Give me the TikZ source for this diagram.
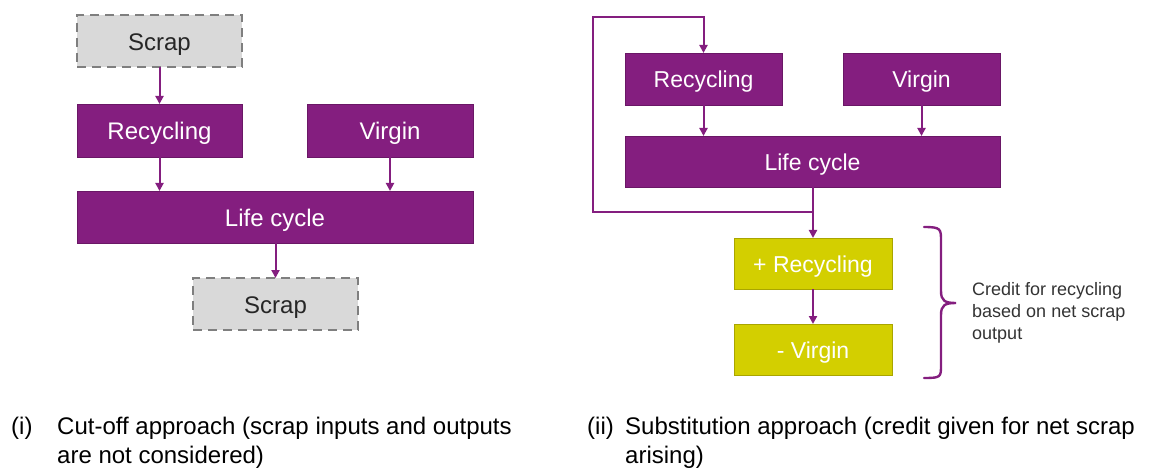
\documentclass[tikz,border=0pt]{standalone}
\usepackage{fontspec}
\setmainfont{Liberation Sans}
\usetikzlibrary{arrows.meta,calc}
\definecolor{purp}{HTML}{841E7F}
\definecolor{purpdk}{HTML}{6A1766}
\definecolor{lime}{HTML}{D3CF00}
\definecolor{limedk}{HTML}{A9A500}
\definecolor{scrapfill}{HTML}{D9D9D9}
\definecolor{scrapline}{HTML}{7F7F7F}
\definecolor{txtdk}{HTML}{262626}
\definecolor{annot}{HTML}{333333}
\tikzset{
  pbox/.style={draw=purpdk, line width=0.8pt, fill=purp, text=white, inner sep=0pt, outer sep=0pt},
  ybox/.style={draw=limedk, line width=0.8pt, fill=lime, text=white, inner sep=0pt, outer sep=0pt},
  sbox/.style={draw=scrapline, dashed, dash pattern=on 9pt off 6pt, line width=1.6pt, fill=scrapfill, text=txtdk, inner sep=0pt, outer sep=0pt},
  fL/.style={font=\fontsize{24}{28}\selectfont, text height=21pt, text depth=2pt},
  fR/.style={font=\fontsize{23}{27}\selectfont, text height=20pt, text depth=2pt},
  flow/.style={draw=purp, line width=2pt, -{Triangle[length=8pt,width=8pt]}},
  capt/.style={anchor=base west, inner sep=0pt, text=black, font=\fontsize{24}{28}\selectfont},
  note/.style={anchor=base west, inner sep=0pt, text=annot, font=\fontsize{18}{22}\selectfont},
}
\begin{document}
\begin{tikzpicture}[x=1pt,y=-1pt]
\useasboundingbox (0,0) rectangle (1150,470);
% ---------- left diagram ----------
\node[sbox, fL, minimum width=165pt, minimum height=52pt] (scrapT) at (159.5,41) {Scrap};
\node[pbox, fL, minimum width=165pt, minimum height=53pt] (recL) at (159.5,130.5) {Recycling};
\node[pbox, fL, minimum width=166pt, minimum height=53pt] (virL) at (390,130.5) {Virgin};
\node[pbox, fL, minimum width=396pt, minimum height=52pt] (lcL) at (275,217) {Life cycle};
\node[sbox, fL, minimum width=165pt, minimum height=52pt] (scrapB) at (275.5,304) {Scrap};
\draw[flow] (scrapT.south) -- (recL.north);
\draw[flow] (recL.south) -- (recL.south |- lcL.north);
\draw[flow] (virL.south) -- (virL.south |- lcL.north);
\draw[flow] (scrapB.north |- lcL.south) -- (scrapB.north);
% ---------- right diagram ----------
\node[pbox, fR, minimum width=157pt, minimum height=52pt] (recR) at (703.5,79) {Recycling};
\node[pbox, fR, minimum width=157pt, minimum height=52pt] (virR) at (921.5,79) {Virgin};
\node[pbox, fR, minimum width=375pt, minimum height=51pt] (lcR) at (812.5,161.5) {Life cycle};
\node[ybox, fR, minimum width=158pt, minimum height=51pt] (plusR) at (813,263.5) {+ Recycling};
\node[ybox, fR, minimum width=158pt, minimum height=51pt] (minusV) at (813,349.5) {- Virgin};
\coordinate (j) at (813,212);
\coordinate (c1) at (593,17);
\draw[flow] (recR.south) -- (recR.south |- lcR.north);
\draw[flow] (virR.south) -- (virR.south |- lcR.north);
\draw[flow] (plusR.north |- lcR.south) -- (plusR.north);
\draw[flow] (plusR.south) -- (minusV.north);
\draw[flow] (j) -- (c1 |- j) -- (c1) -- (c1 -| recR.north) -- (recR.north);
% brace
\coordinate (bt) at (924,227);
\coordinate (btip) at (956,303);
\coordinate (bb) at (924,378);
\draw[purp, line width=2.4pt, line cap=round]
  (bt) .. controls (941,227) and (941,229) .. (941,241) -- (941,291)
  .. controls (941,301) and (945,303) .. (btip)
  .. controls (945,303) and (941,305) .. (941,315) -- (941,365)
  .. controls (941,377) and (941,378) .. (bb);
\node[note] (n1) at (972,295) {Credit for recycling};
\node[note] (n2) at (972,317) {based on net scrap};
\node[note] (n3) at (972,339) {output};
% ---------- captions ----------
\node[capt] (ci) at (11,434) {(i)};
\node[capt] (ci1) at (57,434) {Cut-off approach (scrap inputs and outputs};
\node[capt] (ci2) at (57,463) {are not considered)};
\node[capt] (cii) at (587,434) {(ii)};
\node[capt] (cii1) at (625,434) {Substitution approach (credit given for net scrap};
\node[capt] (cii2) at (625,463) {arising)};
\end{tikzpicture}
\end{document}
